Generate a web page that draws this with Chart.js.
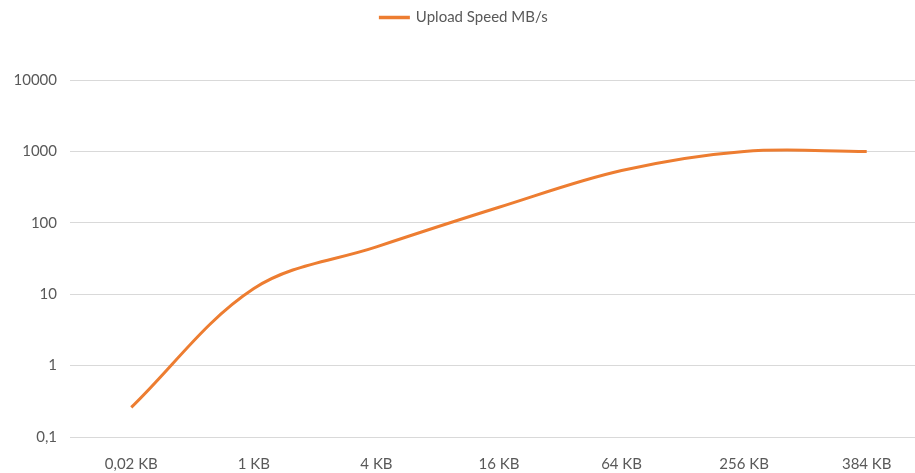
<!DOCTYPE html>
<html>
<head>
<meta charset="utf-8">
<script src="https://cdn.jsdelivr.net/npm/chart.js@4/dist/chart.umd.min.js"></script>
<style>
  html, body { margin: 0; padding: 0; background: #fff; overflow: hidden; }
  #wrap { width: 928px; height: 473px; }
</style>
</head>
<body>
<div id="wrap"><canvas id="speedChart"></canvas></div>
<script>
// data
const sizes = ['0,02 KB', '1 KB', '4 KB', '16 KB', '64 KB', '256 KB', '384 KB'];
const uploadSpeed = [0.26, 12, 46, 165, 540, 1000, 1000];
const yTicks = [0.1, 1, 10, 100, 1000, 10000];

const orange = '#ED7D31';
const gray = '#595959';
const font = { family: 'Lato, "Open Sans", sans-serif', size: 15 };

// push the plot area down below the legend
const legendGap = {
  id: 'legendGap',
  beforeInit(chart) {
    const fit = chart.legend.fit;
    chart.legend.fit = function () {
      fit.bind(chart.legend)();
      this.height += 45;
    };
  }
};

new Chart(document.getElementById('speedChart'), {
  type: 'line',
  data: {
    labels: sizes,
    datasets: [{
      label: 'Upload Speed MB/s',
      data: uploadSpeed,
      borderColor: orange,
      backgroundColor: orange,
      borderWidth: 3,
      pointRadius: 0,
      tension: 0.35,
      fill: false
    }]
  },
  options: {
    responsive: true,
    maintainAspectRatio: false,
    animation: false,
    layout: { padding: { top: 0, left: 0, right: 0, bottom: 0 } },
    plugins: {
      legend: {
        position: 'top',
        labels: { color: gray, font: font, boxWidth: 28, boxHeight: 0.5, padding: 10 }
      },
      tooltip: { enabled: false }
    },
    scales: {
      x: {
        offset: true,
        grid: { display: false },
        border: { display: false },
        ticks: { color: gray, font: font, padding: 10, maxRotation: 0 },
        afterFit: s => { s.height = 36; }
      },
      y: {
        type: 'logarithmic',
        min: 0.1,
        max: 10000,
        grid: { color: '#D9D9D9', lineWidth: 1, drawTicks: false },
        border: { display: false },
        afterBuildTicks: s => { s.ticks = yTicks.map(v => ({ value: v })); },
        ticks: {
          color: gray,
          font: font,
          padding: 13,
          callback: v => String(v).replace('.', ',')
        },
        afterFit: s => { s.width = 70; }
      }
    }
  },
  plugins: [legendGap]
});
</script>
</body>
</html>
